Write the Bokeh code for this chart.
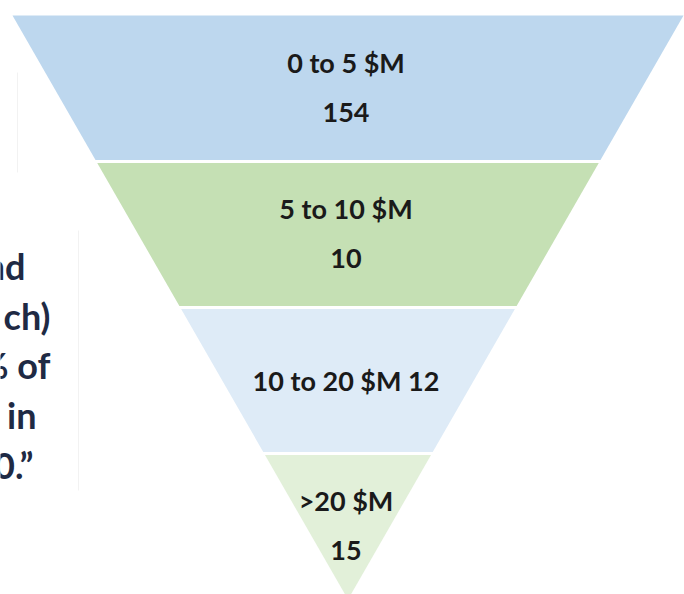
from bokeh.plotting import figure
from bokeh.models import Range1d
from bokeh.core.properties import value
from bokeh.embed import file_html
from bokeh.resources import INLINE

# ---- data ----
categories = ["0 to 5 $M", "5 to 10 $M", "10 to 20 $M", ">20 $M"]
counts = [154, 10, 12, 15]
band_colors = ["#BDD7EE", "#C5E0B4", "#DEEBF7", "#E2F0D9"]
side_text = ["nd", "ch)", "% of", "in", "0.\u201d"]

# ---- layout (reference pixel space) ----
W, H_FIG = 684, 594
CX, TOP, HALF = 347.5, 15.0, 335.5
BAND_H = 146.0
N = len(categories)
APEX = TOP + N * BAND_H
GAP = 1.5


def hw(y):
    return HALF * (APEX - y) / (APEX - TOP)


p = figure(width=W, height=H_FIG, output_backend="svg", toolbar_location=None,
           x_range=Range1d(0, W), y_range=Range1d(H_FIG, 0),
           min_border=0, outline_line_color=None)
p.axis.visible = False
p.grid.visible = False
p.background_fill_color = "white"
p.border_fill_color = "white"

# faint slide artefacts
p.segment(x0=[17, 78], y0=[72, 230], x1=[17, 78], y1=[172, 490],
          line_color="#f2f2f2", line_width=1)

xs, ys = [], []
for i in range(N):
    y0 = TOP + i * BAND_H + (GAP if i > 0 else 0)
    y1 = TOP + (i + 1) * BAND_H - (GAP if i < N - 1 else 0)
    xs.append([CX - hw(y0), CX + hw(y0), CX + hw(y1), CX - hw(y1)])
    ys.append([y0, y0, y1, y1])
p.patches(xs, ys, fill_color=band_colors, line_color=None)

tx, ty, tt = [], [], []
for i, (cat, cnt) in enumerate(zip(categories, counts)):
    top = TOP + i * BAND_H
    if i == 2:
        tx.append(CX - 2); ty.append(top + 73); tt.append(f"{cat} {cnt}")
    else:
        tx += [CX - 2, CX - 2]
        ty += [top + 47, top + 97]
        tt += [cat, str(cnt)]
p.text(x=tx, y=ty, text=tt, text_align="center", text_baseline="middle",
       text_font=value("Lato"), text_font_style="bold", text_font_size="27px",
       text_color="#1a1a1a")

side_x = [25, 50, 50, 36, 33]
side_y = [265, 315, 364, 414, 464]
p.text(x=side_x, y=side_y, text=side_text, text_align="right",
       text_baseline="middle", text_font=value("Lato"),
       text_font_style="bold", text_font_size="36px", text_color="#1f2a44")

open("out.html", "w").write(file_html(p, INLINE))
